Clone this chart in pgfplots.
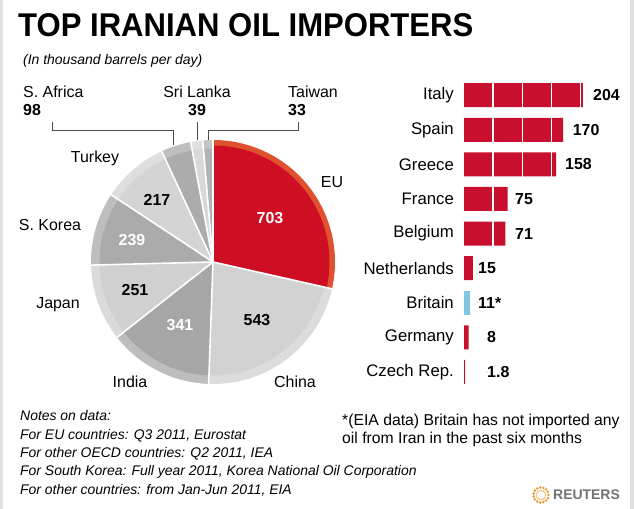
\documentclass[border=0pt]{standalone}
\usepackage{fontspec}
\setmainfont{Liberation Sans}
\usepackage{pgfplots}
\pgfplotsset{compat=1.18}

\definecolor{eured}{HTML}{CE0F23}
\definecolor{euring}{HTML}{E0522F}
\definecolor{barred}{HTML}{C8102E}
\definecolor{britblue}{HTML}{7FC6DE}
\definecolor{gA}{HTML}{D2D2D2}\definecolor{gAr}{HTML}{DCDCDC}
\definecolor{gB}{HTML}{A6A6A6}\definecolor{gBr}{HTML}{BDBDBD}
\definecolor{gC}{HTML}{D0D0D0}\definecolor{gCr}{HTML}{DADADA}
\definecolor{gD}{HTML}{ABABAB}\definecolor{gDr}{HTML}{BEBEBE}
\definecolor{gE}{HTML}{D4D4D4}\definecolor{gEr}{HTML}{DEDEDE}
\definecolor{gF}{HTML}{ACACAC}\definecolor{gFr}{HTML}{BFBFBF}
\definecolor{gG}{HTML}{D8D8D8}\definecolor{gGr}{HTML}{E0E0E0}
\definecolor{gH}{HTML}{B2B2B2}\definecolor{gHr}{HTML}{C4C4C4}
\definecolor{logoorange}{HTML}{E8962E}

\newcommand{\fs}[1]{\fontsize{#1}{#1}\selectfont}

\begin{document}
\begin{tikzpicture}[x=1bp,y=1bp]
\path[use as bounding box, fill=white] (0,0) rectangle (634,509);
\fill[black!12] (0,0) rectangle (3,509);
\fill[black!12] (630,0) rectangle (634,509);

% title
\node[anchor=base west, inner sep=0, font=\bfseries\fs{33}] at (18,472)
  {\scalebox{0.945}[1]{TOP IRANIAN OIL IMPORTERS}};
\node[anchor=base west, inner sep=0, font=\itshape\fs{14}] at (23,444)
  {(In thousand barrels per day)};

% pie: EU, China, India, Japan, S. Korea, Turkey, S. Africa, Sri Lanka, Taiwan (total 2464)
\begin{axis}[at={(213bp,247bp)}, anchor=center, scale only axis,
  width=244bp, height=244bp, xmin=-1, xmax=1, ymin=-1, ymax=1,
  hide axis, clip=false]
\foreach \v/\cin/\cout/\k [remember=\e as \s (initially 90)] in
  {703/eured/euring/0.955, 543/gA/gAr/0.93, 341/gB/gBr/0.93, 251/gC/gCr/0.93,
   239/gD/gDr/0.93, 217/gE/gEr/0.93, 98/gF/gFr/0.93, 39/gG/gGr/0.93, 33/gH/gHr/0.93}{
  \pgfmathsetmacro\e{\s-\v/2464*360}
  \pgfmathsetmacro\ri{122*\k}
  \edef\temp{\noexpand\fill[\cout] (0,0) -- ({cos(\s)},{sin(\s)})
      arc[start angle=\s, end angle=\e, radius=122bp] -- cycle;
    \noexpand\fill[\cin] (0,0) -- ({\k*cos(\s)},{\k*sin(\s)})
      arc[start angle=\s, end angle=\e, radius=\ri bp] -- cycle;}
  \temp
}
\foreach \v [remember=\e as \s (initially 90)] in {703,543,341,251,239,217,98,39,33}{
  \pgfmathsetmacro\e{\s-\v/2464*360}
  \edef\temp{\noexpand\draw[white, line width=1.6bp] (0,0) -- ({cos(\s)},{sin(\s)});}
  \temp
}
\end{axis}

% pie labels
\begin{scope}[every node/.style={inner sep=0, font=\fs{16}}]
\node at (332,327) {EU};
\node at (295,127) {China};
\node at (130,127) {India};
\node at (58,204) {Japan};
\node at (50,284) {S. Korea};
\node at (95,351) {Turkey};
\node[anchor=west] at (23,417) {S. Africa};
\node[anchor=west, font=\bfseries\fs{16}] at (23,399) {98};
\node at (197,417) {Sri Lanka};
\node[font=\bfseries\fs{16}] at (197,399) {39};
\node[anchor=west] at (288,417) {Taiwan};
\node[anchor=west, font=\bfseries\fs{16}] at (288,399) {33};
\node[font=\bfseries\fs{16}, text=white] at (270,291) {703};
\node[font=\bfseries\fs{16}] at (257,189) {543};
\node[font=\bfseries\fs{16}, text=white] at (180,184) {341};
\node[font=\bfseries\fs{16}] at (135,219) {251};
\node[font=\bfseries\fs{16}, text=white] at (132,269) {239};
\node[font=\bfseries\fs{16}] at (157,309) {217};
\end{scope}
\draw[black!70, line width=0.9bp] (52,387) -- (52,379) -- (173,379) -- (173,364);
\draw[black!70, line width=0.9bp] (197,387) -- (197,369);
\draw[black!70, line width=0.9bp] (298,387) -- (298,379) -- (208,379) -- (208,369);

% bars
\begin{axis}[at={(464bp,119.7bp)}, anchor=south west, scale only axis,
  width=145.75bp, height=311.4bp, xmin=0, xmax=250, ymin=-0.5, ymax=8.5,
  axis line style={draw=none}, major tick style={draw=none},
  xtick={50,100,150,200}, xticklabels={}, xmajorgrids,
  grid style={white, line width=1.6bp}, axis on top,
  ytick={0,...,8},
  yticklabels={Czech Rep., Germany, Britain, Netherlands, Belgium, France, Greece, Spain, Italy},
  yticklabel style={font=\fs{16.8}, text=black, inner sep=0pt, xshift=-10bp},
  clip=false]
\addplot[xbar, bar width=24bp, bar shift=0pt, fill=barred, draw=none]
  coordinates {(1.8,0) (8,1) (15,3) (71,4) (75,5) (158,6) (170,7) (204,8)};
\addplot[xbar, bar width=24bp, bar shift=0pt, fill=britblue, draw=none]
  coordinates {(11,2)};
\addplot[only marks, mark=*, mark size=0.01pt, mark options={draw=none, fill=none},
  nodes near coords, point meta=explicit symbolic,
  nodes near coords style={anchor=west, inner sep=0pt, text=black, font=\bfseries\fs{16}}]
  table[x=lx, y=y, meta=lab] {
lx     y  lab
39.5   0  1.8
39.5   1  8
24     2  11*
24     3  15
87.5   4  71
87.5   5  75
173.2  6  158
186.4  7  170
221.3  8  204
};
\end{axis}

% notes
\begin{scope}[every node/.style={anchor=base west, inner sep=0, font=\itshape\fs{14}}]
\node at (20,88) {Notes on data:};
\node at (20,69) {For EU countries: Q3 2011, Eurostat};
\node at (20,51) {For other OECD countries: Q2 2011, IEA};
\node at (20,33) {For South Korea: Full year 2011, Korea National Oil Corporation};
\node at (20,14) {For other countries: from Jan-Jun 2011, EIA};
\end{scope}
\node[anchor=base west, inner sep=0, font=\fs{15.8}] at (342,83) {*(EIA data) Britain has not imported any};
\node[anchor=base west, inner sep=0, font=\fs{15.8}] at (342,65) {oil from Iran in the past six months};

% logo
\foreach \a in {0,24,...,336}{
  \fill[logoorange, shift={(541,14)}] (\a:7.5) circle (1.4);
  \fill[logoorange!70, shift={(541,14)}] (\a+12:4.5) circle (0.9);
}
\node[anchor=west, inner sep=0, font=\bfseries\fs{14}, text=black!55] at (553,14) {REUTERS};
\end{tikzpicture}
\end{document}
